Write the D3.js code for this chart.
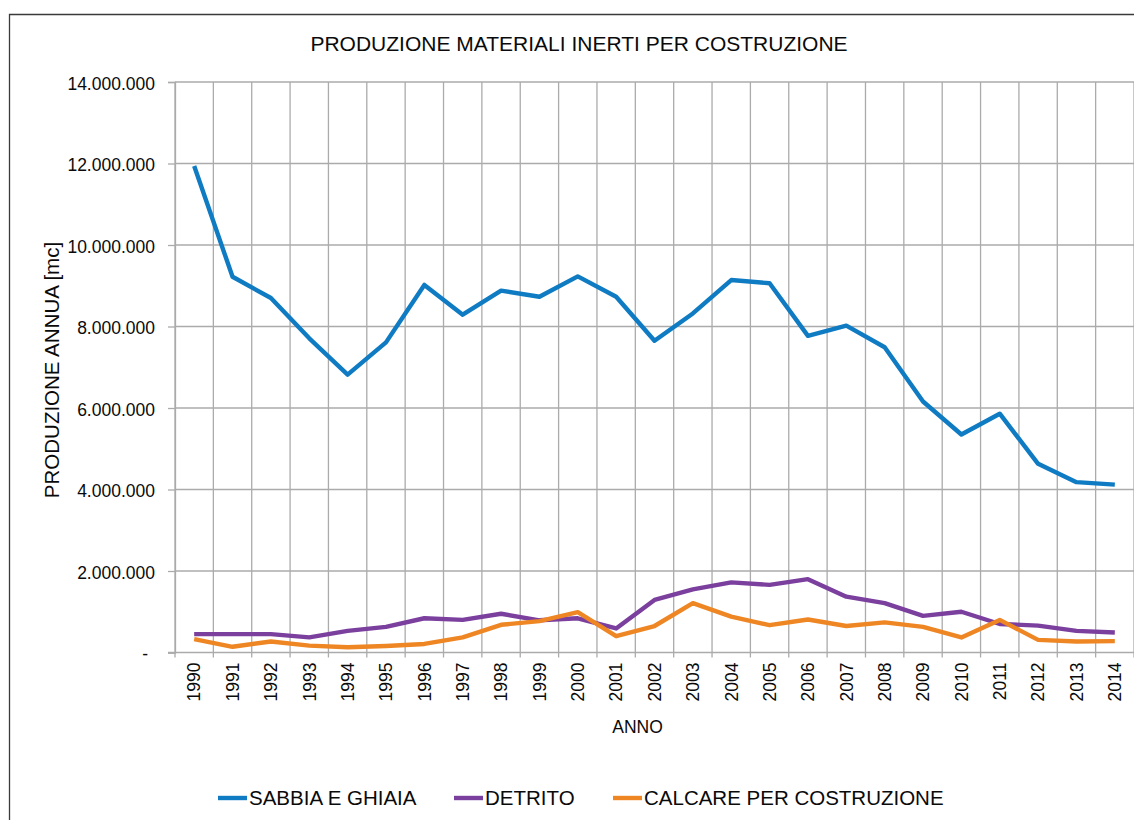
<!DOCTYPE html>
<html>
<head>
<meta charset="utf-8">
<script src="https://cdn.jsdelivr.net/npm/d3@7/dist/d3.min.js"></script>
<style>
  html, body { margin: 0; padding: 0; background: #fff; }
  svg { display: block; font-family: "Liberation Sans", Arial, Helvetica, sans-serif; }
</style>
</head>
<body>
<svg id="chart" width="1134" height="820"></svg>
<script>
// Annual production of aggregates for construction (m³)
const years = [1990, 1991, 1992, 1993, 1994, 1995, 1996, 1997, 1998, 1999,
               2000, 2001, 2002, 2003, 2004, 2005, 2006, 2007, 2008, 2009,
               2010, 2011, 2012, 2013, 2014];

const sabbiaGhiaia = [11940000, 9220000, 8700000, 7710000, 6820000, 7610000, 9020000, 8290000, 8880000, 8730000,
                      9230000, 8730000, 7650000, 8320000, 9140000, 9060000, 7770000, 8020000, 7490000, 6160000,
                      5350000, 5860000, 4630000, 4180000, 4120000];

const detrito = [450000, 450000, 450000, 370000, 530000, 630000, 840000, 800000, 950000, 790000,
                 840000, 590000, 1290000, 1550000, 1720000, 1660000, 1800000, 1370000, 1210000, 900000,
                 1000000, 700000, 660000, 530000, 490000];

const calcare = [330000, 140000, 270000, 170000, 130000, 160000, 210000, 370000, 680000, 770000,
                 990000, 400000, 650000, 1210000, 880000, 670000, 810000, 650000, 740000, 630000,
                 370000, 800000, 310000, 270000, 280000];

const seriesNames = ["SABBIA E GHIAIA", "DETRITO", "CALCARE PER COSTRUZIONE"];
const seriesColors = ["#0f7bc3", "#7b3f9e", "#ee8624"];
const yTicks = [0, 2000000, 4000000, 6000000, 8000000, 10000000, 12000000, 14000000];

const chartTitle = "PRODUZIONE MATERIALI INERTI PER COSTRUZIONE";
const yTitle = "PRODUZIONE ANNUA [mc]";
const xTitle = "ANNO";

const series = seriesNames.map((name, i) => ({
  name,
  color: seriesColors[i],
  values: [sabbiaGhiaia, detrito, calcare][i]
}));

const svg = d3.select("#chart");
const W = 1134, H = 820;
const plot = { left: 175, right: 1134, top: 82, bottom: 652.5 };
const textColor = "#0a0a0a";

// outer chart frame (top and left edges visible)
svg.append("path")
  .attr("d", `M9.5,${H} V14.5 H${W}`)
  .attr("fill", "none")
  .attr("stroke", "#3a3a3a")
  .attr("stroke-width", 1.3);

const x = d3.scaleBand()
  .domain(years)
  .range([plot.left, plot.right])
  .paddingInner(0).paddingOuter(0);

const y = d3.scaleLinear()
  .domain([0, 14000000])
  .range([plot.bottom, plot.top]);

const itFormat = d3.formatLocale({ decimal: ",", thousands: ".", grouping: [3], currency: ["€", ""] }).format(",.0f");
const fmt = v => v === 0 ? "-" : itFormat(v);

const gridColor = "#ababab";

// left axis with ticks
const yAxis = svg.append("g")
  .attr("transform", `translate(${plot.left},0)`)
  .call(d3.axisLeft(y).tickValues(yTicks).tickFormat(fmt).tickSize(7).tickPadding(13));
yAxis.select(".domain").attr("stroke", gridColor).attr("stroke-width", 1.3);
yAxis.selectAll(".tick line").attr("stroke", gridColor).attr("stroke-width", 1.3);
yAxis.selectAll(".tick text")
  .attr("fill", textColor)
  .attr("font-size", "17.5px")
  .attr("font-family", "'Liberation Sans', Arial, sans-serif")
  .attr("dy", "0.42em")
  .attr("dx", d => d === 0 ? -7 : 0);

// horizontal gridlines
svg.append("g")
  .selectAll("line")
  .data(yTicks.filter(t => t > 0))
  .join("line")
  .attr("x1", plot.left).attr("x2", plot.right)
  .attr("y1", d => y(d)).attr("y2", d => y(d))
  .attr("stroke", gridColor).attr("stroke-width", 1.3);

// vertical gridlines at category boundaries
const boundaries = years.map(yr => x(yr)).concat([x(years[years.length - 1]) + x.bandwidth()]);
svg.append("g")
  .selectAll("line")
  .data(boundaries)
  .join("line")
  .attr("x1", d => d).attr("x2", d => d)
  .attr("y1", plot.top).attr("y2", plot.bottom + 5)
  .attr("stroke", gridColor).attr("stroke-width", 1.3);

// baseline
svg.append("line")
  .attr("x1", plot.left - 7).attr("x2", plot.right)
  .attr("y1", plot.bottom).attr("y2", plot.bottom)
  .attr("stroke", gridColor).attr("stroke-width", 1.3);

// year labels, rotated
svg.append("g")
  .selectAll("text")
  .data(years)
  .join("text")
  .attr("transform", d => `translate(${x(d) + x.bandwidth() / 2},${plot.bottom + 10}) rotate(-90)`)
  .attr("text-anchor", "end")
  .attr("dy", "0.36em")
  .attr("font-size", "17.5px")
  .attr("fill", textColor)
  .text(d => d);

// series lines
const line = d3.line()
  .x((d, i) => x(years[i]) + x.bandwidth() / 2)
  .y(d => y(d));

svg.append("g")
  .selectAll("path")
  .data(series)
  .join("path")
  .attr("d", d => line(d.values))
  .attr("fill", "none")
  .attr("stroke", d => d.color)
  .attr("stroke-width", 4.4)
  .attr("stroke-linejoin", "round")
  .attr("stroke-linecap", "butt");

// title
svg.append("text")
  .attr("x", 579).attr("y", 51)
  .attr("text-anchor", "middle")
  .attr("font-size", "21px")
  .attr("fill", textColor)
  .text(chartTitle);

// axis titles
svg.append("text")
  .attr("transform", `translate(59,370) rotate(-90)`)
  .attr("text-anchor", "middle")
  .attr("font-size", "20.5px")
  .attr("fill", textColor)
  .text(yTitle);

svg.append("text")
  .attr("x", 637.5).attr("y", 733)
  .attr("text-anchor", "middle")
  .attr("font-size", "17.5px")
  .attr("fill", textColor)
  .text(xTitle);

// legend
const legendX = [218, 454, 613];
const legend = svg.append("g").attr("transform", "translate(0,798)");
const items = legend.selectAll("g")
  .data(series)
  .join("g")
  .attr("transform", (d, i) => `translate(${legendX[i]},0)`);
items.append("line")
  .attr("x1", 0).attr("x2", 29)
  .attr("y1", 0).attr("y2", 0)
  .attr("stroke", d => d.color)
  .attr("stroke-width", 4.4);
items.append("text")
  .attr("x", 31)
  .attr("dy", "0.36em")
  .attr("font-size", "20.5px")
  .attr("fill", textColor)
  .text(d => d.name);
</script>
</body>
</html>
